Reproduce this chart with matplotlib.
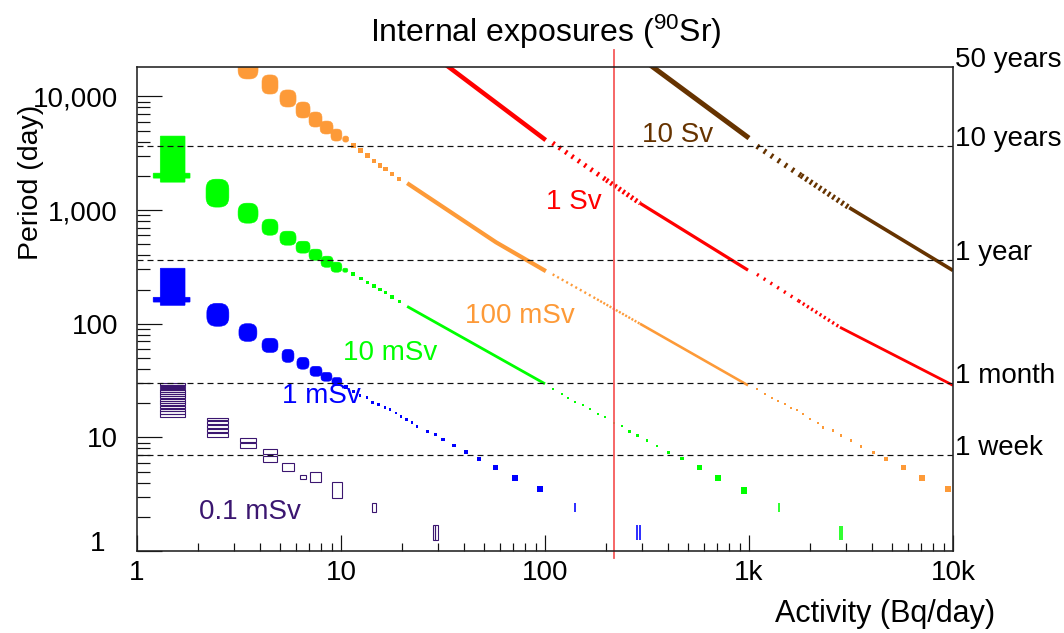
import matplotlib
matplotlib.use("Agg")
import matplotlib.pyplot as plt
from matplotlib.patches import FancyBboxPatch, Rectangle
from matplotlib.transforms import IdentityTransform

plt.rcParams["font.family"] = ["Liberation Sans", "DejaVu Sans"]
plt.rcParams["mathtext.fontset"] = "custom"
plt.rcParams["mathtext.rm"] = "Liberation Sans"
plt.rcParams["mathtext.default"] = "regular"
plt.rcParams["lines.scale_dashes"] = False

W, H = 1064, 633
PX = 0.72  # one pixel in points (dpi 100)

# ---------------- data: activity (Bq/day), period (days) ----------------
ref_days = [3652.5, 365.25, 30.0, 7.0]
ref_names = ["10 years", "1 year", "1 month", "1 week"]
top_day = 18262.5
top_name = "50 years"
limit_act = 218.0

x_ticks = [1, 10, 100, 1000, 10000]
x_labels = ["1", "10", "100", "1k", "10k"]
y_ticks = [1, 10, 100, 1000, 10000]
y_labels = ["1", "10", "100", "1,000", "10,000"]

# 10 Sv
sv10_line_act = [[320, 1000], [3100, 10000]]
sv10_line_per = [[19500, 4300], [1050, 294]]
sv10_dot_act = [1094, 1800, 3100]
sv10_dot_per = [3652, 2012, 1050]

# 1 Sv
sv1_line_act = [[32, 100.8], [292, 989], [2793, 10000]]
sv1_line_per = [[19500, 4130], [1150, 296], [93, 28.7]]
sv1_dot_act = [[109, 200, 292], [1094, 1750, 2793]]
sv1_dot_per = [[3890, 1837, 1150], [272, 159, 93]]

# 100 mSv
ms100_box_a0 = [3.13, 4.10, 5.02, 6.02, 6.97, 7.90, 8.93, 10.2]
ms100_box_a1 = [3.92, 4.91, 6.02, 7.05, 8.07, 9.14, 10.1, 10.9]
ms100_box_t0 = [14250, 10500, 8070, 6460, 5380, 4670, 4050, 3965]
ms100_box_t1 = [25000, 15450, 11400, 8930, 7290, 6070, 5160, 4480]
ms100_sq_act = [11.5, 12.5, 13.5, 14.5, 15.5, 16.5, 17.8, 19.2]
ms100_sq_per = [3730, 3330, 3000, 2700, 2480, 2290, 2080, 1890]
ms100_line_act = [[21.1, 57.5, 101], [292, 989]]
ms100_line_per = [[1725, 521, 290], [100, 28.7]]
ms100_dot_act = [109, 180, 292]
ms100_dot_per = [272, 164, 100]
ms100_pt_act = [1094, 1197, 1297, 1387, 1500, 1607, 1718, 1840, 1990, 2180,
                2305, 2580, 2826, 3162, 3540, 4055, 4695, 5690, 7047, 9448]
ms100_pt_per = [26.4, 23.9, 22.0, 20.7, 19.5, 18.3, 17.3, 16.2, 14.4, 13.3,
                12.2, 11.5, 10.4, 9.4, 8.3, 7.4, 6.4, 5.4, 4.4, 3.5]

# 10 mSv
ms10_block = [1.30, 1.72, 1760, 4480]
ms10_bar = [1.20, 1.82, 1910, 2114]
ms10_box_a0 = [2.18, 3.13, 4.10, 5.02, 6.02, 6.97, 7.98, 8.93, 10.2]
ms10_box_a1 = [2.82, 3.92, 4.91, 6.02, 7.05, 8.07, 9.14, 10.1, 10.8]
ms10_box_t0 = [1062, 767, 601, 491, 418, 362, 314, 284, 284]
ms10_box_t1 = [1870, 1150, 832, 652, 532, 453, 393, 348, 308]
ms10_sq_act = [11.5, 12.5, 13.5, 14.5, 15.5, 16.5, 17.8, 19.3]
ms10_sq_per = [272, 250, 231, 214, 200, 188, 172, 157]
ms10_line_act = [21.1, 100]
ms10_line_per = [142, 29.6]
ms10_pt_act = [109, 121, 129, 141, 153, 166, 181, 197, 218, 239,
               260, 284, 316, 354, 401, 470, 569, 705, 945]
ms10_pt_per = [26.5, 24.3, 22.4, 20.3, 19.1, 17.6, 16.2, 15.0, 13.3, 12.5,
               11.3, 10.4, 9.4, 8.4, 7.4, 6.5, 5.4, 4.4, 3.4]
ms10_bar_act = [1403, 2793, 2856]
ms10_bar_t0 = [2.22, 1.26, 1.26]
ms10_bar_t1 = [2.67, 1.67, 1.67]

# 1 mSv
ms1_block = [1.30, 1.72, 145, 308]
ms1_bar = [1.20, 1.82, 155, 171]
ms1_box_a0 = [2.20, 3.16, 4.10, 5.14, 6.08, 7.05, 7.98, 9.03]
ms1_box_a1 = [2.82, 3.87, 4.91, 5.88, 6.97, 8.07, 9.03, 10.1]
ms1_box_t0 = [95, 70, 55.9, 45.7, 39.8, 34.5, 31.2, 28.7]
ms1_box_t1 = [151, 100, 74.5, 59.5, 50.6, 42.2, 37.3, 33.6]
ms1_pt_act = [10.6, 11.5, 12.4, 13.4, 14.3, 15.3, 16.4, 17.4, 18.6, 19.7, 21.0,
              22.3, 23.6, 26.6, 28.9, 31.6, 35.8, 41.0, 47.3, 57.5, 71.3, 94.5]
ms1_pt_per = [27.5, 25.2, 23.4, 22.5, 20.3, 19.5, 18.3, 17.6, 16.3, 15.3, 14.4,
              13.5, 12.5, 11.3, 10.6, 9.6, 8.5, 7.4, 6.4, 5.4, 4.4, 3.5]
ms1_bar_act = [140, 282, 292]
ms1_bar_t0 = [2.22, 1.26, 1.26]
ms1_bar_t1 = [2.67, 1.71, 1.71]

# 0.1 mSv (hollow boxes, one per day bin)
ms01_col_a0 = [1.30, 2.20, 3.20, 4.15]
ms01_col_a1 = [1.72, 2.79, 3.83, 4.86]
ms01_col_days = [[15, 16, 17, 18, 19, 20, 21, 22, 23, 24, 25, 26, 27, 28, 29],
                 [10, 11, 12, 13, 14],
                 [8, 9],
                 [6, 7]]
ms01_box_a0 = [5.14, 6.29, 7.05, 9.03, 14.2, 28.2, 29.0]
ms01_box_a1 = [5.88, 6.73, 7.98, 10.1, 14.8, 28.9, 29.9]
ms01_box_t0 = [5.01, 4.26, 4.01, 2.95, 2.22, 1.26, 1.26]
ms01_box_t1 = [5.89, 4.71, 4.91, 4.01, 2.67, 1.71, 1.71]

# colours
c_brown = "#663300"
c_red = "#ff0000"
c_orange = "#fd9a38"
c_green = "#00ff00"
c_blue = "#0000ff"
c_purple = "#3b1670"
c_limit = "#f55a5a"

# ---------------- figure ----------------
fig = plt.figure(figsize=(W / 100, H / 100), dpi=100)
ax = fig.add_axes([137 / W, 1 - 551 / H, (953 - 137) / W, (551 - 66.7) / H])
ax.set_xscale("log")
ax.set_yscale("log")
ax.set_xlim(1, 10000)
ax.set_ylim(1, top_day)


def blobs(a0s, a1s, t0s, t1s, color, rfrac=0.42):
    # rounded boxes drawn in pixel space so the corners stay round on log axes
    for a0, a1, t0, t1 in zip(a0s, a1s, t0s, t1s):
        (x0, y0), (x1, y1) = ax.transData.transform([(a0, t0), (a1, t1)])
        w, h = x1 - x0, y1 - y0
        rr = rfrac * min(w, h)
        p = FancyBboxPatch((x0, y0), w, h,
                           boxstyle="round,pad=0,rounding_size=%.2f" % rr,
                           transform=IdentityTransform(), fc=color, ec=color,
                           lw=0.4, zorder=3)
        ax.add_artist(p)


def hollow(a0, a1, t0, t1, color):
    ax.add_patch(Rectangle((a0, t0), a1 - a0, t1 - t0, fill=False, ec=color,
                           lw=1.1 * PX, zorder=3))


def dense(acts, pers, color, lw_px):
    ax.plot(acts, pers, color=color, lw=lw_px * PX, solid_capstyle="butt", zorder=3)


def dotted(acts, pers, color, lw_px, on_px, gaps_px):
    # first span sparse, following spans denser
    for i in range(len(acts) - 1):
        ax.plot(acts[i:i + 2], pers[i:i + 2], color=color, lw=lw_px * PX,
                linestyle=(0, (on_px * PX, gaps_px[i] * PX)),
                dash_capstyle="butt", zorder=3)


def squares(acts, pers, color, sizes_px):
    ax.scatter(acts, pers, s=[(s * PX) ** 2 for s in sizes_px], marker="s",
               c=color, linewidths=0, zorder=3)


# 10 Sv
dense(sv10_line_act[0], sv10_line_per[0], c_brown, 5.0)
dense(sv10_line_act[1], sv10_line_per[1], c_brown, 3.6)
dotted(sv10_dot_act, sv10_dot_per, c_brown, 5.5, 2.4, [6.0, 3.0])

# 1 Sv
dense(sv1_line_act[0], sv1_line_per[0], c_red, 4.5)
dense(sv1_line_act[1], sv1_line_per[1], c_red, 3.2)
dense(sv1_line_act[2], sv1_line_per[2], c_red, 2.8)
dotted(sv1_dot_act[0], sv1_dot_per[0], c_red, 5.0, 2.2, [5.5, 2.8])
dotted(sv1_dot_act[1], sv1_dot_per[1], c_red, 3.5, 2.0, [6.0, 3.0])

# 100 mSv
blobs(ms100_box_a0, ms100_box_a1, ms100_box_t0, ms100_box_t1, c_orange)
squares(ms100_sq_act, ms100_sq_per, c_orange, [5, 5, 5, 4.8, 4.6, 4.5, 4.4, 4.3])
dense(ms100_line_act[0], ms100_line_per[0], c_orange, 4.2)
dense(ms100_line_act[1], ms100_line_per[1], c_orange, 2.6)
dotted(ms100_dot_act, ms100_dot_per, c_orange, 2.4, 2.0, [3.2, 1.6])
squares(ms100_pt_act, ms100_pt_per, c_orange,
        [2, 2, 2, 2, 2, 2, 2, 2, 2.2, 2.2, 2.2, 2.4, 2.4, 2.6, 2.8, 3, 4, 5, 6, 6.5])

# 10 mSv
blobs([ms10_block[0]], [ms10_block[1]], [ms10_block[2]], [ms10_block[3]], c_green, 0.02)
blobs([ms10_bar[0]], [ms10_bar[1]], [ms10_bar[2]], [ms10_bar[3]], c_green, 0.1)
blobs(ms10_box_a0, ms10_box_a1, ms10_box_t0, ms10_box_t1, c_green)
squares(ms10_sq_act, ms10_sq_per, c_green, [4, 3.8, 3.6, 3.5, 3.4, 3.3, 3.2, 3.1])
dense(ms10_line_act, ms10_line_per, c_green, 2.8)
squares(ms10_pt_act, ms10_pt_per, c_green,
        [2, 2, 2, 2, 2, 2, 2, 2, 2.2, 2.2, 2.5, 2.5, 2.5, 2.8, 3, 3.5, 5, 6, 6.5])
ax.vlines(ms10_bar_act, ms10_bar_t0, ms10_bar_t1, color=c_green, lw=1.6 * PX, zorder=3)

# 1 mSv
blobs([ms1_block[0]], [ms1_block[1]], [ms1_block[2]], [ms1_block[3]], c_blue, 0.02)
blobs([ms1_bar[0]], [ms1_bar[1]], [ms1_bar[2]], [ms1_bar[3]], c_blue, 0.1)
blobs(ms1_box_a0, ms1_box_a1, ms1_box_t0, ms1_box_t1, c_blue)
squares(ms1_pt_act, ms1_pt_per, c_blue,
        [4, 3, 2.5, 2.5, 2.5, 2.5, 2.5, 2.5, 2.5, 2.5, 2.6, 2.8, 2.8, 3, 3, 3.2,
         3.4, 3.6, 4, 5, 6, 6.5])
ax.vlines(ms1_bar_act, ms1_bar_t0, ms1_bar_t1, color=c_blue, lw=1.6 * PX, zorder=3)

# 0.1 mSv
for a0, a1, days in zip(ms01_col_a0, ms01_col_a1, ms01_col_days):
    for d in days:
        hollow(a0, a1, d + 0.1, d + 0.9, c_purple)
for a0, a1, t0, t1 in zip(ms01_box_a0, ms01_box_a1, ms01_box_t0, ms01_box_t1):
    hollow(a0, a1, t0, t1, c_purple)

# reference periods
for d in ref_days:
    ax.axhline(d, color="#111111", lw=1.2 * PX, linestyle=(0, (6 * PX, 4 * PX)), zorder=5)
ax.axvline(limit_act, ymin=-0.015, ymax=1.034, color=c_limit, lw=1.8 * PX,
           clip_on=False, zorder=6)

# axes styling
for side in ["left", "bottom", "top", "right"]:
    ax.spines[side].set_linewidth(1.6 * PX)
    ax.spines[side].set_color("#222222")
    ax.spines[side].set_zorder(7)
ax.set_xticks(x_ticks, x_labels)
ax.set_yticks(y_ticks, [""] + y_labels[1:])
ax.tick_params(axis="both", which="both", direction="in", top=False, right=False,
               width=1.2 * PX, color="#111111", labelsize=20)
ax.tick_params(axis="y", which="major", length=25 * PX, pad=19 * PX)
ax.tick_params(axis="y", which="minor", length=13 * PX)
ax.tick_params(axis="x", which="major", length=16 * PX, pad=9 * PX)
ax.tick_params(axis="x", which="minor", length=8 * PX)
ax.annotate(y_labels[0], xy=(0, 1), xycoords=("axes fraction", "data"),
            xytext=(-32, 10), textcoords="offset pixels", ha="right",
            va="center_baseline", fontsize=20)

# right-hand period labels
for d, name in zip(ref_days + [top_day], ref_names + [top_name]):
    ax.annotate(name, xy=(1, d), xycoords=("axes fraction", "data"),
                xytext=(2, 0), textcoords="offset pixels", ha="left",
                va="baseline", fontsize=20, annotation_clip=False)


def ftext(xp, yp, s, size=20, **kw):
    fig.text(xp / W, 1 - yp / H, s, fontsize=size, **kw)


ftext(546, 42, r"Internal exposures ($^{90}$Sr)", size=23, ha="center", va="baseline")
ftext(31, 182, "Period (day)", size=20.5, ha="center", va="center", rotation=90)
ftext(995, 622, "Activity (Bq/day)", size=22, ha="right", va="baseline")

ftext(678, 142, "10 Sv", color=c_brown, ha="center", va="baseline")
ftext(574, 209, "1 Sv", color=c_red, ha="center", va="baseline")
ftext(520, 323, "100 mSv", color=c_orange, ha="center", va="baseline")
ftext(390, 360, "10 mSv", color=c_green, ha="center", va="baseline")
ftext(321, 403, "1 mSv", color=c_blue, ha="center", va="baseline")
ftext(250, 519, "0.1 mSv", color=c_purple, ha="center", va="baseline")

fig.savefig("out.png", dpi=100, facecolor="white")
